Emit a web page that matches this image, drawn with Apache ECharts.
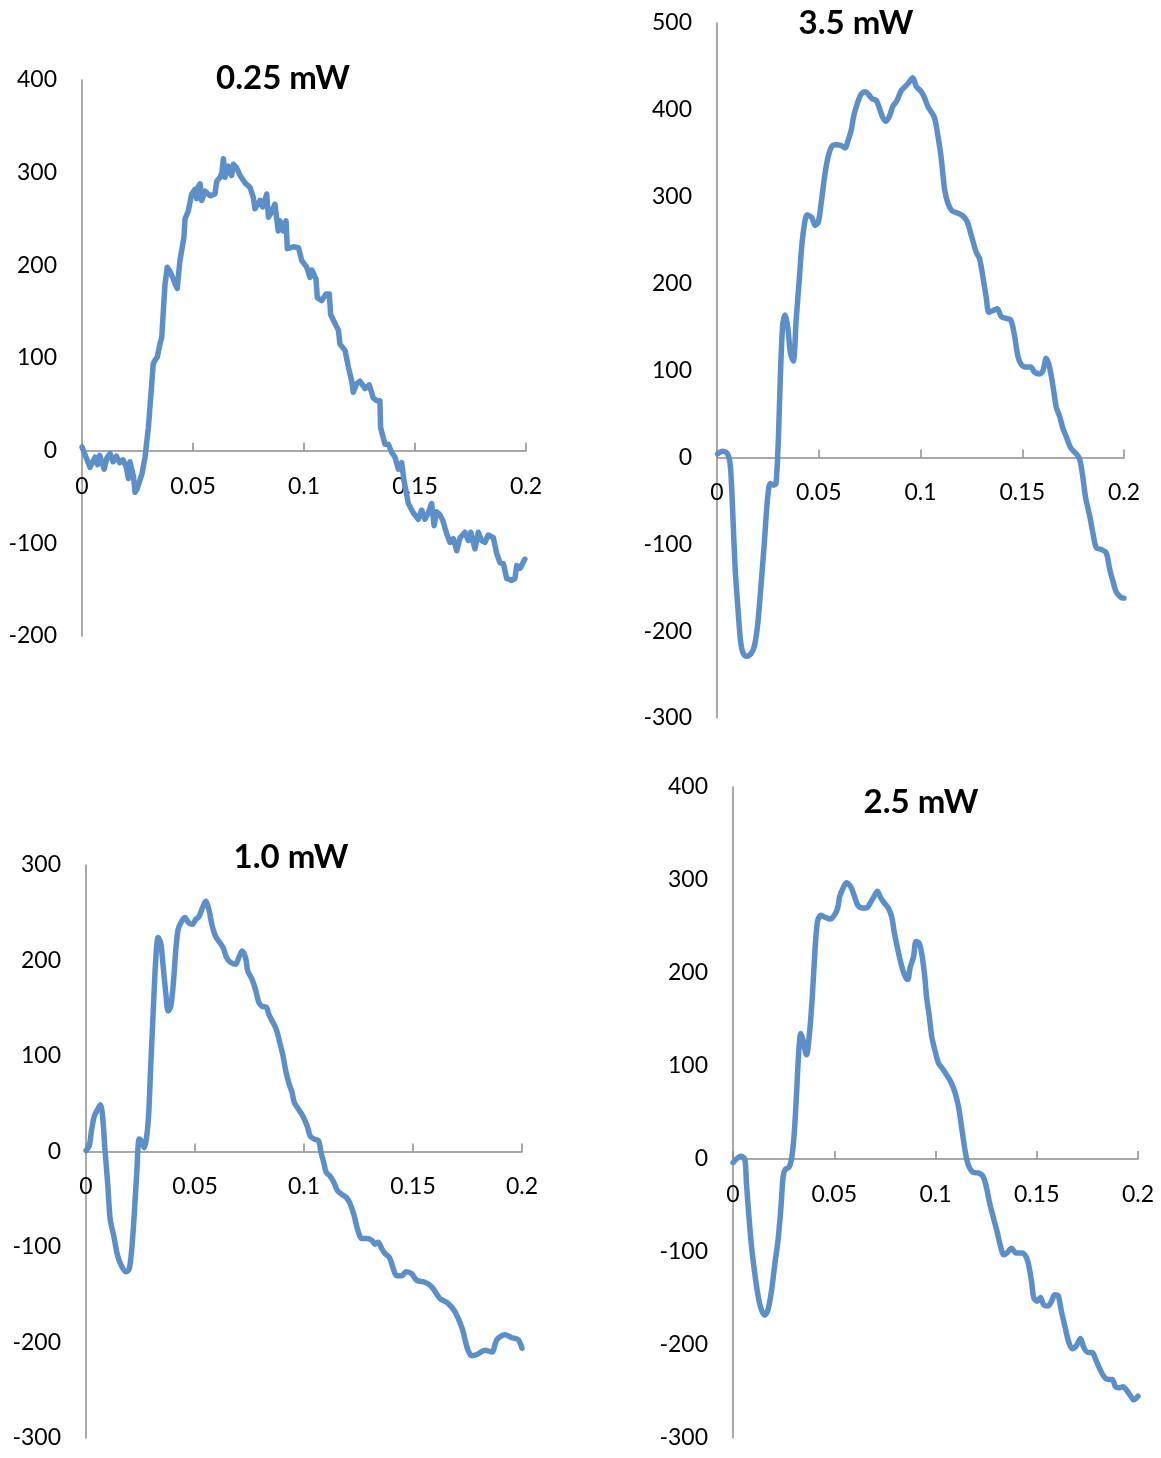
<!DOCTYPE html>
<html>
<head>
<meta charset="utf-8">
<script src="https://cdn.jsdelivr.net/npm/echarts@6/dist/echarts.min.js"></script>
<style>
html,body{margin:0;padding:0;background:#fff;}
#chart{width:1161px;height:1458px;}
</style>
</head>
<body>
<div id="chart"></div>
<script>
// ---- Data: [time (s), value] pairs ----
const titles = ['0.25 mW', '3.5 mW', '1.0 mW', '2.5 mW'];
const xTicks = [0, 0.05, 0.1, 0.15, 0.2];
const yRange025 = [-200, 400];
const yRange35 = [-300, 500];
const yRange10 = [-300, 300];
const yRange25 = [-300, 400];

const s025 = [[0,4],[0.0036,-18],[0.0059,-7],[0.0070,-15],[0.0080,-5],[0.0089,-3],[0.0100,-20],[0.0112,-8],[0.0126,-3],[0.0140,-12],[0.0155,-6],[0.0170,-13],[0.0185,-10],[0.0200,-18],[0.0209,-30],[0.0216,-12],[0.0224,-20],[0.0232,-28],[0.0239,-45],[0.0247,-42],[0.0254,-44],[0.0270,-25],[0.0284,-7],[0.0299,25],[0.0314,72],[0.0321,94],[0.0330,98],[0.0339,101],[0.0351,115],[0.0359,122],[0.0374,180],[0.0384,198],[0.0395,194],[0.0404,196],[0.0412,185],[0.0419,180],[0.0429,175],[0.0441,205],[0.0459,230],[0.0464,250],[0.0479,259],[0.0494,277],[0.0509,282],[0.0517,272],[0.0524,285],[0.0532,288],[0.0539,270],[0.0554,280],[0.0577,275],[0.0599,277],[0.0607,291],[0.0622,295],[0.0630,300],[0.0637,315],[0.0644,295],[0.0659,307],[0.0674,297],[0.0682,309],[0.0697,305],[0.0712,297],[0.0734,289],[0.0757,284],[0.0772,273],[0.0779,261],[0.0802,270],[0.0814,263],[0.0832,277],[0.0840,252],[0.0855,258],[0.0869,266],[0.0884,237],[0.0892,248],[0.0907,237],[0.0919,248],[0.0925,218],[0.0952,220],[0.0975,219],[0.0990,205],[0.1012,198],[0.1027,187],[0.1035,195],[0.1054,185],[0.1060,165],[0.1080,162],[0.1099,169],[0.1114,169],[0.1120,147],[0.1140,137],[0.1155,130],[0.1162,115],[0.1185,108],[0.1200,90],[0.1215,75],[0.1222,63],[0.1237,72],[0.1252,75],[0.1275,67],[0.1294,71],[0.1312,57],[0.1327,54],[0.1342,54],[0.1345,25],[0.1357,14],[0.1365,7],[0.1380,7],[0.1395,-2],[0.1410,-7],[0.1425,-20],[0.1440,-13],[0.1450,-32],[0.1470,-57],[0.1492,-67],[0.1515,-74],[0.1530,-64],[0.1545,-74],[0.1560,-67],[0.1575,-57],[0.1586,-81],[0.1597,-66],[0.1612,-69],[0.1625,-75],[0.1643,-90],[0.1658,-99],[0.1673,-95],[0.1688,-108],[0.1703,-94],[0.1725,-88],[0.1740,-97],[0.1751,-88],[0.1770,-106],[0.1785,-88],[0.1800,-97],[0.1815,-99],[0.1830,-91],[0.1853,-94],[0.1868,-111],[0.1883,-121],[0.1898,-122],[0.1913,-138],[0.1935,-140],[0.1950,-138],[0.1958,-124],[0.1973,-127],[0.1995,-117]];

const s35 = [[0.0003,4],[0.0028,7],[0.0052,4],[0.0066,-11],[0.0077,-62],[0.0089,-127],[0.0102,-171],[0.0115,-210],[0.0126,-224],[0.0143,-229],[0.0167,-226],[0.0184,-217],[0.0200,-192],[0.0216,-148],[0.0233,-97],[0.0249,-46],[0.0262,-30],[0.0279,-32],[0.0290,-30],[0.0302,24],[0.0311,91],[0.0323,153],[0.0334,164],[0.0348,149],[0.0361,120],[0.0375,111],[0.0389,158],[0.0405,207],[0.0416,242],[0.0430,269],[0.0443,279],[0.0466,276],[0.0482,267],[0.0498,271],[0.0511,291],[0.0528,322],[0.0544,344],[0.0564,358],[0.0585,360],[0.0610,359],[0.0630,356],[0.0643,364],[0.0659,376],[0.0672,393],[0.0689,407],[0.0708,418],[0.0728,421],[0.0744,418],[0.0761,413],[0.0782,411],[0.0798,402],[0.0815,391],[0.0831,387],[0.0848,393],[0.0864,404],[0.0885,411],[0.0905,422],[0.0925,427],[0.0941,431],[0.0962,437],[0.0979,427],[0.1000,422],[0.1016,416],[0.1036,404],[0.1052,398],[0.1069,391],[0.1085,371],[0.1102,344],[0.1118,309],[0.1134,293],[0.1154,284],[0.1184,281],[0.1208,278],[0.1230,271],[0.1249,256],[0.1274,236],[0.1290,229],[0.1307,207],[0.1323,184],[0.1336,167],[0.1356,169],[0.1377,171],[0.1397,162],[0.1421,160],[0.1444,158],[0.1462,140],[0.1479,116],[0.1495,107],[0.1520,104],[0.1541,104],[0.1561,98],[0.1585,96],[0.1602,100],[0.1618,114],[0.1634,104],[0.1651,82],[0.1667,58],[0.1684,47],[0.1700,33],[0.1716,24],[0.1738,11],[0.1766,4],[0.1782,-2],[0.1798,-23],[0.1811,-46],[0.1831,-67],[0.1848,-88],[0.1864,-104],[0.1889,-106],[0.1913,-110],[0.1930,-129],[0.1946,-143],[0.1962,-155],[0.1984,-161],[0.2000,-162]];

const s10 = [[0,1],[0.0015,6],[0.0026,23],[0.0038,37],[0.0053,44],[0.0066,49],[0.0076,37],[0.0087,2],[0.0099,-32],[0.0111,-71],[0.0127,-88],[0.0145,-109],[0.0163,-120],[0.0183,-126],[0.0198,-123],[0.0210,-102],[0.0221,-67],[0.0233,-22],[0.0244,13],[0.0255,11],[0.0267,4],[0.0277,13],[0.0287,37],[0.0297,90],[0.0308,145],[0.0320,201],[0.0331,224],[0.0343,218],[0.0355,191],[0.0366,166],[0.0377,147],[0.0389,152],[0.0401,177],[0.0412,211],[0.0422,232],[0.0434,239],[0.0453,245],[0.0473,239],[0.0488,238],[0.0503,243],[0.0518,246],[0.0534,255],[0.0549,262],[0.0564,253],[0.0579,236],[0.0595,225],[0.0610,220],[0.0630,213],[0.0645,203],[0.0663,198],[0.0686,196],[0.0701,203],[0.0716,210],[0.0732,203],[0.0742,189],[0.0762,180],[0.0777,170],[0.0793,156],[0.0808,152],[0.0828,151],[0.0838,144],[0.0858,135],[0.0873,128],[0.0889,114],[0.0904,100],[0.0915,86],[0.0930,72],[0.0945,62],[0.0956,51],[0.0976,44],[0.0995,37],[0.1014,27],[0.1029,16],[0.1047,13],[0.1067,11],[0.1078,-1],[0.1090,-11],[0.1102,-22],[0.1117,-25],[0.1136,-32],[0.1154,-41],[0.1174,-45],[0.1194,-48],[0.1212,-55],[0.1230,-67],[0.1245,-81],[0.1265,-91],[0.1288,-91],[0.1311,-93],[0.1326,-97],[0.1341,-95],[0.1357,-102],[0.1372,-107],[0.1392,-111],[0.1410,-123],[0.1425,-130],[0.1448,-130],[0.1468,-126],[0.1494,-128],[0.1517,-135],[0.1555,-137],[0.1587,-142],[0.1624,-154],[0.1661,-159],[0.1693,-168],[0.1725,-185],[0.1752,-208],[0.1771,-214],[0.1798,-212],[0.1830,-208],[0.1862,-210],[0.1885,-197],[0.1922,-192],[0.1954,-195],[0.1982,-197],[0.2000,-206]];

const s25 = [[0,-4],[0.0017,0],[0.0038,3],[0.0058,0],[0.0066,-25],[0.0078,-60],[0.0091,-93],[0.0104,-117],[0.0120,-142],[0.0137,-160],[0.0157,-168],[0.0173,-162],[0.0190,-142],[0.0206,-114],[0.0223,-86],[0.0236,-54],[0.0248,-18],[0.0259,-11],[0.0276,-9],[0.0289,0],[0.0302,26],[0.0314,71],[0.0325,116],[0.0335,135],[0.0347,127],[0.0363,112],[0.0376,131],[0.0391,172],[0.0404,221],[0.0417,255],[0.0434,262],[0.0454,260],[0.0479,258],[0.0500,262],[0.0517,270],[0.0528,283],[0.0545,292],[0.0561,297],[0.0583,292],[0.0599,283],[0.0616,273],[0.0639,270],[0.0660,270],[0.0677,275],[0.0693,281],[0.0713,288],[0.0729,281],[0.0748,275],[0.0767,270],[0.0784,260],[0.0797,243],[0.0814,225],[0.0830,210],[0.0847,198],[0.0863,193],[0.0875,206],[0.0891,217],[0.0904,234],[0.0919,232],[0.0932,221],[0.0946,198],[0.0957,172],[0.0969,154],[0.0982,131],[0.0998,116],[0.1015,103],[0.1035,97],[0.1056,90],[0.1078,82],[0.1097,71],[0.1114,56],[0.1127,37],[0.1139,19],[0.1150,4],[0.1163,-7],[0.1183,-14],[0.1210,-15],[0.1233,-18],[0.1249,-28],[0.1266,-46],[0.1282,-60],[0.1304,-78],[0.1320,-93],[0.1337,-103],[0.1353,-101],[0.1375,-96],[0.1398,-101],[0.1427,-101],[0.1447,-105],[0.1460,-114],[0.1474,-131],[0.1485,-149],[0.1502,-153],[0.1518,-149],[0.1535,-157],[0.1556,-158],[0.1573,-153],[0.1589,-146],[0.1606,-147],[0.1622,-164],[0.1639,-180],[0.1658,-197],[0.1675,-204],[0.1695,-201],[0.1716,-193],[0.1733,-203],[0.1754,-208],[0.1774,-208],[0.1790,-215],[0.1810,-225],[0.1832,-234],[0.1853,-237],[0.1873,-237],[0.1889,-245],[0.1906,-246],[0.1926,-245],[0.1942,-248],[0.1964,-255],[0.1980,-259],[0.2000,-255]];

// ---- Layout ----
const panels = [
  {data: s025, yr: yRange025, grid: {left: 82, top: 80, width: 444, height: 556}, title: [283, 78], smooth: false},
  {data: s35,  yr: yRange35,  grid: {left: 717, top: 23, width: 407, height: 695}, title: [856, 23], smooth: 0.3},
  {data: s10,  yr: yRange10,  grid: {left: 86, top: 865, width: 436, height: 573}, title: [291, 857], smooth: 0.3},
  {data: s25,  yr: yRange25,  grid: {left: 733, top: 787, width: 405, height: 651}, title: [921, 802], smooth: 0.3}
];

const FONT = 'Lato, "Open Sans", sans-serif';
const axisGray = '#8c8c8c';
const lineBlue = '#5b8fc9';

const option = {
  animation: false,
  backgroundColor: '#ffffff',
  grid: panels.map(p => Object.assign({containLabel: false}, p.grid)),
  xAxis: panels.map((p, i) => ({
    type: 'value', gridIndex: i, min: xTicks[0], max: xTicks[xTicks.length - 1], interval: 0.05,
    position: 'bottom',
    // place the whole axis (line, ticks, labels) at y = 0 of the value axis
    offset: -p.grid.height * (0 - p.yr[0]) / (p.yr[1] - p.yr[0]),
    axisLine: {show: true, onZero: false, lineStyle: {color: axisGray, width: 1.5}},
    axisTick: {show: true, inside: true, length: 8, lineStyle: {color: axisGray, width: 1.5}},
    splitLine: {show: false},
    axisLabel: {margin: 24, color: '#000', fontSize: 23, fontFamily: FONT,
      formatter: v => String(+v.toFixed(2))}
  })),
  yAxis: panels.map((p, i) => ({
    type: 'value', gridIndex: i, min: p.yr[0], max: p.yr[1], interval: 100,
    axisLine: {show: true, onZero: false, lineStyle: {color: axisGray, width: 1.5}},
    axisTick: {show: false},
    splitLine: {show: false},
    axisLabel: {margin: 25, color: '#000', fontSize: 23, fontFamily: FONT}
  })),
  graphic: panels.map((p, i) => ({
    type: 'text', x: p.title[0], y: p.title[1],
    style: {text: titles[i], fill: '#000', font: 'bold 33px ' + FONT, textAlign: 'center', textVerticalAlign: 'middle'}
  })),
  series: panels.map((p, i) => ({
    type: 'line', xAxisIndex: i, yAxisIndex: i, data: p.data, showSymbol: false, symbol: 'none',
    smooth: p.smooth, lineStyle: {color: lineBlue, width: 5.5, cap: 'round', join: 'round'}
  }))
};

const chart = echarts.init(document.getElementById('chart'), null, {renderer: 'canvas'});
chart.setOption(option);
</script>
</body>
</html>
